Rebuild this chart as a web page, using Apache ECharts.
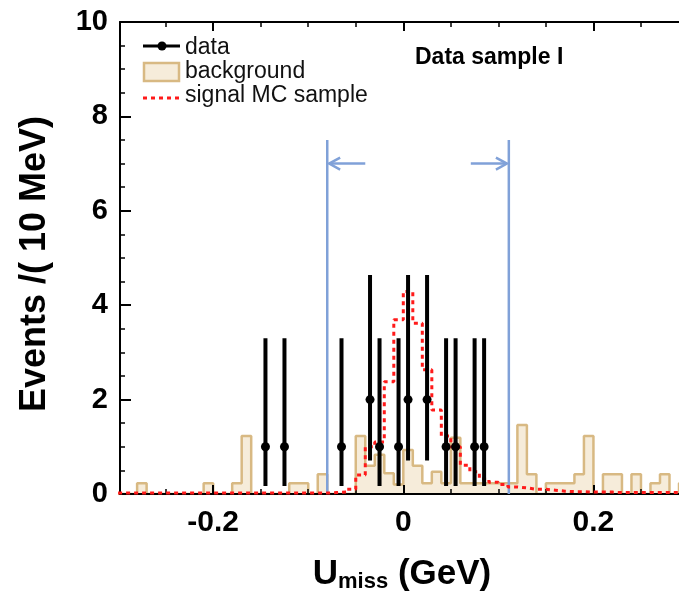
<!DOCTYPE html>
<html><head><meta charset="utf-8">
<script src="https://cdn.jsdelivr.net/npm/echarts@6/dist/echarts.min.js"></script>
<style>html,body{margin:0;padding:0;background:#fff}#c{width:679px;height:599px}</style>
</head><body><div id="c"></div>
<script>
// ---- data ----
const binStart = -0.30;   // GeV, first bin lower edge
const binWidth = 0.01;    // 10 MeV bins
// background (bins from -0.30 upward)
const bgValues = [0,0,0.23,0,0,0,0,0,0,0.23, 0,0,0.23,1.23,0,0,0,0,0.23,0.23,
                  0,0.42,0,0,0,1.23,0.6,0.83,0.44,0.2, 0.93,0.6,0.23,0.47,0.23,1.19,0.23,0.23,0.23,0.23,
                  0.23,0.23,1.46,0.42,0,0.23,0.23,0.23,0.42,1.23, 0,0.42,0.42,0,0.42,0,0.23,0.42,0,0.23];
// signal MC (same bins)
const sigValues = [0.02,0.02,0.02,0.02,0.02,0.02,0.02,0.02,0.02,0.02, 0.02,0.02,0.02,0.02,0.02,0.02,0.02,0.02,0.02,0.02,
                   0.02,0.02,0.03,0.04,0.1,0.4,1.0,1.1,2.38,3.69, 4.29,3.62,2.63,1.78,1.23,1.0,0.61,0.47,0.32,0.25,
                   0.2,0.15,0.13,0.1,0.1,0.08,0.06,0.05,0.05,0.04, 0.04,0.04,0.03,0.03,0.03,0.03,0.03,0.03,0.03,0.03];
// data points
const dataX  = [-0.145,-0.125,-0.065,-0.035,-0.025,-0.005,0.005,0.025,0.045,0.055,0.075,0.085];
const dataY  = [1,1,1,2,1,1,2,2,1,1,1,1];
const dataLo = [0.17,0.17,0.17,0.71,0.17,0.17,0.71,0.71,0.17,0.17,0.17,0.17];
const dataHi = [3.30,3.30,3.30,4.64,3.30,3.30,4.64,4.64,3.30,3.30,3.30,3.30];
// signal window cuts
const cutX = [-0.08, 0.111];
const cutDir = [-1, 1];
const cutTop = 7.5;
const arrowY = 7.0;
const arrowLen = 0.04;
// axes
const xMin = -0.298, xMax = 0.29;
const xLabelValues = [-0.2, 0, 0.2];
const xMinorValues = [-0.25,-0.2,-0.15,-0.1,-0.05,0,0.05,0.1,0.15,0.2,0.25];
const yMin = 0, yMax = 10, yStep = 2;

// ---- build ----
function stepData(vals){
  const out = vals.map((v,i)=>[binStart + i*binWidth, v]);
  out.push([binStart + vals.length*binWidth, 0]);
  return out;
}
const FONT = '"Liberation Sans", Arial, Helvetica, sans-serif';
const tan = '#d8b983';
const tanFill = '#f6ecda';
const blue = '#80a1d8';

const chart = echarts.init(document.getElementById('c'), null, {renderer:'canvas'});
const hidden = {show:false};
chart.setOption({
  animation:false,
  grid:{left:120, right:0, top:22, bottom:105, containLabel:false},
  xAxis:[
    {type:'value', min:xMin, max:xMax, position:'bottom', z:3,
     axisLine:{show:true, onZero:false, lineStyle:{color:'#000', width:2}},
     axisTick:{show:true, inside:true, length:9, customValues:xLabelValues, lineStyle:{color:'#000', width:2}},
     axisLabel:{show:true, customValues:xLabelValues, margin:14, color:'#000',
       fontFamily:FONT, fontWeight:'bold', fontSize:30,
       formatter:v=>String(Math.round(v*10)/10)},
     splitLine:hidden},
    {type:'value', min:xMin, max:xMax, position:'bottom', z:3,
     axisLine:{show:false},
     axisTick:{show:true, inside:true, length:5, customValues:xMinorValues, lineStyle:{color:'#000', width:1.5}},
     axisLabel:hidden, splitLine:hidden},
    {type:'value', min:xMin, max:xMax, position:'top', z:3,
     axisLine:{show:true, onZero:false, lineStyle:{color:'#000', width:2}},
     axisTick:{show:true, inside:true, length:9, customValues:xLabelValues, lineStyle:{color:'#000', width:2}},
     axisLabel:hidden, splitLine:hidden},
    {type:'value', min:xMin, max:xMax, position:'top', z:3,
     axisLine:{show:false},
     axisTick:{show:true, inside:true, length:5, customValues:xMinorValues, lineStyle:{color:'#000', width:1.5}},
     axisLabel:hidden, splitLine:hidden}
  ],
  yAxis:[{type:'value', min:yMin, max:yMax, interval:yStep, z:3,
     axisLine:{show:true, onZero:false, lineStyle:{color:'#000', width:2}},
     axisTick:{show:true, inside:true, length:11, lineStyle:{color:'#000', width:2}},
     minorTick:{show:true, splitNumber:4, length:5, lineStyle:{color:'#000', width:1.5}},
     axisLabel:{margin:12, color:'#000', fontFamily:FONT, fontWeight:'bold', fontSize:29},
     splitLine:hidden}],
  series:[
    {name:'background', type:'line', step:'end', data:stepData(bgValues), showSymbol:false, symbol:'none',
     lineStyle:{color:tan, width:2.5}, areaStyle:{color:tanFill, opacity:1}, z:2, clip:true},
    {name:'signal MC sample', type:'line', step:'end', data:stepData(sigValues), showSymbol:false, symbol:'none',
     lineStyle:{color:'#ff1a1a', width:3, type:[4,4]}, z:4, clip:true},
    {name:'cuts', type:'custom', z:4,
     data:cutX.map((x,i)=>[x, cutTop, arrowY, cutDir[i]]),
     renderItem:(params, api)=>{
       const x = api.value(0), dir = api.value(3);
       const b = api.coord([x, 0]), t = api.coord([x, api.value(1)]);
       const head = api.coord([x - dir*0.002, api.value(2)]);
       const tail = api.coord([x - dir*arrowLen, api.value(2)]);
       const hx = head[0], hy = head[1];
       return {type:'group', children:[
         {type:'line', shape:{x1:b[0], y1:b[1], x2:t[0], y2:t[1]}, style:{stroke:blue, lineWidth:2.5}},
         {type:'line', shape:{x1:tail[0], y1:hy, x2:hx, y2:hy}, style:{stroke:blue, lineWidth:2.5}},
         {type:'polyline', shape:{points:[[hx - dir*11, hy-6],[hx, hy],[hx - dir*11, hy+6]]}, style:{stroke:blue, lineWidth:2.5, fill:null}}
       ]};
     }},
    {name:'data', type:'custom', z:5,
     data:dataX.map((x,i)=>[x, dataY[i], dataLo[i], dataHi[i]]),
     renderItem:(params, api)=>{
       const x = api.value(0);
       const p = api.coord([x, api.value(1)]);
       const lo = api.coord([x, api.value(2)]);
       const hi = api.coord([x, api.value(3)]);
       return {type:'group', children:[
         {type:'line', shape:{x1:p[0], y1:lo[1], x2:p[0], y2:hi[1]}, style:{stroke:'#000', lineWidth:4}},
         {type:'circle', shape:{cx:p[0], cy:p[1], r:4.5}, style:{fill:'#000'}}
       ]};
     }}
  ],
  graphic:[
    // legend
    {type:'line', shape:{x1:143, y1:46, x2:180, y2:46}, style:{stroke:'#000', lineWidth:3}},
    {type:'circle', shape:{cx:162, cy:46, r:4.5}, style:{fill:'#000'}},
    {type:'rect', shape:{x:144, y:63, width:35, height:18}, style:{fill:tanFill, stroke:tan, lineWidth:2.5}},
    {type:'line', shape:{x1:143, y1:98, x2:180, y2:98}, style:{stroke:'#ff1a1a', lineWidth:3, lineDash:[4,4]}},
    {type:'text', x:185, y:48, style:{text:'data', fontFamily:FONT, fontSize:23, fill:'#111', verticalAlign:'middle'}},
    {type:'text', x:185, y:72, style:{text:'background', fontFamily:FONT, fontSize:23, fill:'#111', verticalAlign:'middle'}},
    {type:'text', x:185, y:96, style:{text:'signal MC sample', fontFamily:FONT, fontSize:23, fill:'#111', verticalAlign:'middle'}},
    {type:'text', x:415, y:58, style:{text:'Data sample I', fontFamily:FONT, fontSize:23, fontWeight:'bold', fill:'#000', verticalAlign:'middle'}},
    // axis titles
    {type:'text', x:35, y:264, rotation:Math.PI/2,
     style:{text:'Events /( 10 MeV)', fontFamily:FONT, fontSize:36, fontWeight:'bold', fill:'#000', align:'center', verticalAlign:'middle'}},
    {type:'text', x:402, y:574,
     style:{text:'{u|U}{s|miss}{u| (GeV)}', align:'center', verticalAlign:'middle',
       rich:{u:{fontFamily:FONT, fontSize:35, fontWeight:'bold', fill:'#000', verticalAlign:'middle'},
             s:{fontFamily:FONT, fontSize:22, fontWeight:'bold', fill:'#000', padding:[15,0,0,0], verticalAlign:'middle'}}}}
  ]
});
</script></body></html>
